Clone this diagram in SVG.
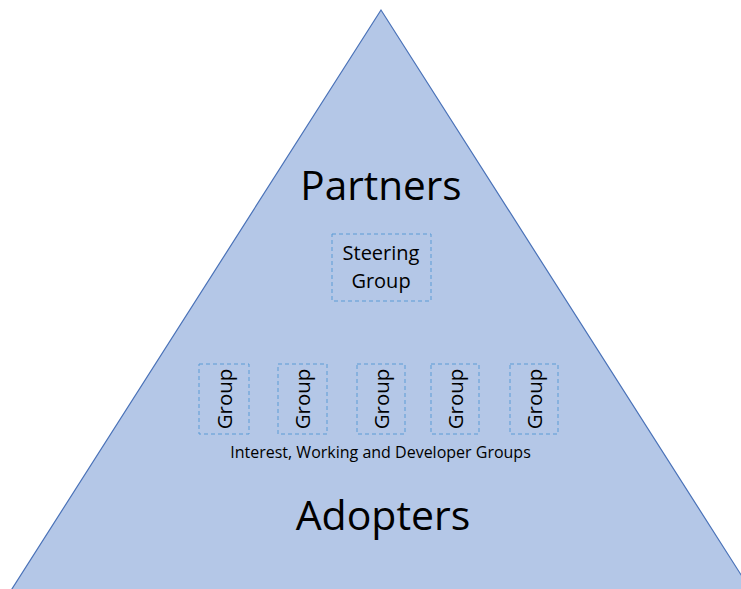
<svg xmlns="http://www.w3.org/2000/svg" width="741" height="589" viewBox="0 0 741 589">
<style>
.t{font-family:"Open Sans","Liberation Sans",sans-serif;fill:#000}
.box{fill:none;stroke:#5b9bd5;stroke-width:1;stroke-dasharray:4 3}
.g{font-size:20.5px}
</style>
<rect width="741" height="589" fill="#fff"/>
<g id="pyramid">
<polygon points="381,10 10,592 752,592" fill="#b4c7e7" stroke="#4a72b8" stroke-width="1.2"/>
</g>
<g id="partners"><text class="t" x="381" y="200" font-size="40.5" text-anchor="middle">Partners</text></g>
<g id="steering">
<rect class="box" x="332" y="234" width="99" height="67"/>
<text class="t" x="381" y="260" font-size="20" text-anchor="middle">Steering</text>
<text class="t" x="381" y="288" font-size="20" text-anchor="middle">Group</text>
</g>
<g id="group1"><rect class="box" x="199" y="364" width="50" height="70"/><text class="t g" text-anchor="middle" transform="translate(231.5,399) rotate(-90)">Group</text></g>
<g id="group2"><rect class="box" x="278" y="364" width="49" height="70"/><text class="t g" text-anchor="middle" transform="translate(310,399) rotate(-90)">Group</text></g>
<g id="group3"><rect class="box" x="357" y="364" width="48" height="70"/><text class="t g" text-anchor="middle" transform="translate(388.5,399) rotate(-90)">Group</text></g>
<g id="group4"><rect class="box" x="431" y="364" width="48" height="70"/><text class="t g" text-anchor="middle" transform="translate(462.5,399) rotate(-90)">Group</text></g>
<g id="group5"><rect class="box" x="510" y="364" width="48" height="70"/><text class="t g" text-anchor="middle" transform="translate(541.5,399) rotate(-90)">Group</text></g>
<g id="caption"><text class="t" x="380.5" y="458" font-size="16" text-anchor="middle">Interest, Working and Developer Groups</text></g>
<g id="adopters"><text class="t" x="383" y="530" font-size="41" text-anchor="middle">Adopters</text></g>
<g id="connectors"/>
</svg>
